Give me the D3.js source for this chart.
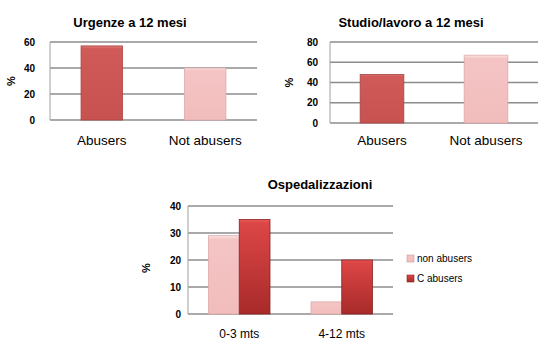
<!DOCTYPE html>
<html>
<head>
<meta charset="utf-8">
<script src="https://cdn.jsdelivr.net/npm/d3@7"></script>
<style>
body{margin:0;background:#fff}
svg{display:block}
text{font-family:"Liberation Sans",Arial,sans-serif;fill:#000}
</style>
</head>
<body>
<div id="chart"></div>
<script>
// data
var groups = ['Abusers','Not abusers']
var urgenze = [57,40]
var studio = [48,67]
var ospCats = ['0-3 mts','4-12 mts']
var ospSeries = ['non abusers','C abusers']
var ospNon = [29,4.5]
var ospAb = [35,20]
var ticks1 = [0,20,40,60]
var ticks2 = [0,20,40,60,80]
var ticks3 = [0,10,20,30,40]

var svg = d3.select('#chart').append('svg')
	.attr('width',538).attr('height',340)

var defs = svg.append('defs')
function grad(id, stops){
	var g = defs.append('linearGradient').attr('id',id)
		.attr('x1',0).attr('y1',0).attr('x2',0).attr('y2',1)
	stops.forEach(s=>g.append('stop').attr('offset',s[0]).attr('stop-color',s[1]))
}
grad('gDark',[[0,'#e07a78'],[0.04,'#d05a58'],[1,'#c85250']])
grad('gPink',[[0,'#fbe4e4'],[0.05,'#f4c4c4'],[1,'#f2bcbc']])
grad('gRed',[[0,'#e85a5a'],[0.04,'#dc4646'],[1,'#a82a2a']])

function frame(g, x0, x1, y, ticks, title, tx, ty, px, py, pad){
	g.selectAll('line.grid').data(ticks).join('line').attr('class','grid')
		.attr('x1',x0).attr('x2',x1)
		.attr('y1',d=>y(d)).attr('y2',d=>y(d))
		.attr('stroke','#8c8c8c').attr('stroke-width',1.6)
	g.append('line').attr('x1',x0).attr('x2',x0)
		.attr('y1',y(ticks[0])).attr('y2',y(ticks[ticks.length-1]))
		.attr('stroke','#a0a0a0').attr('stroke-width',1)
	var ax = g.append('g').attr('transform','translate('+(x0-pad)+',0)')
		.call(d3.axisLeft(y).tickValues(ticks).tickSize(0).tickPadding(0))
	ax.select('.domain').remove()
	ax.selectAll('text').style('font-size','10px').style('font-weight','bold')
		.style('font-family','"Liberation Sans",Arial,sans-serif')
	g.append('text').attr('x',tx).attr('y',ty).attr('text-anchor','middle')
		.style('font-size','13px').style('font-weight','bold').text(title)
	g.append('text').attr('transform','translate('+px+','+py+') rotate(-90)')
		.attr('text-anchor','middle').style('font-size','11px').style('font-weight','bold').text('%')
}

function simple(vals, x0, x1, yb, yt, max, ticks, title, tx, px, fr, pad){
	var g = svg.append('g')
	var x = d3.scaleBand().domain(groups).range([x0,x1])
	var y = d3.scaleLinear().domain([0,max]).range([yb,yt])
	frame(g, x0, x1, y, ticks, title, tx, 27, px, (yb+yt)/2, pad)
	var w = x.bandwidth()*fr
	g.selectAll('rect.bar').data(vals).join('rect').attr('class','bar')
		.attr('x',(d,i)=>x(groups[i])+x.bandwidth()/2-w/2)
		.attr('width',w)
		.attr('y',d=>y(d)).attr('height',d=>yb-y(d))
		.attr('fill',(d,i)=>i==0?'url(#gDark)':'url(#gPink)')
		.attr('stroke',(d,i)=>i==0?'#a84442':'#dcaaaa').attr('stroke-width',0.8)
	g.selectAll('text.cat').data(groups).join('text').attr('class','cat')
		.attr('x',d=>x(d)+x.bandwidth()/2).attr('y',145)
		.attr('text-anchor','middle').style('font-size','13.5px').text(d=>d)
}

simple(urgenze, 50, 257, 120, 42, 60, ticks1, 'Urgenze a 12 mesi', 130, 15, 0.4, 15)
simple(studio, 330, 538, 123, 42, 80, ticks2, 'Studio/lavoro a 12 mesi', 411, 293, 0.42, 12)

// ospedalizzazioni
var g3 = svg.append('g')
var x3 = d3.scaleBand().domain(ospCats).range([188,393])
var y3 = d3.scaleLinear().domain([0,40]).range([314,206])
frame(g3, 188, 393, y3, ticks3, 'Ospedalizzazioni', 320, 189, 150, 268, 7)
var gw = x3.bandwidth()*0.6
var xi = d3.scaleBand().domain(ospSeries).range([0,gw])
var rows = ospCats.map((c,i)=>({cat:c, vals:[ospNon[i],ospAb[i]]}))
var grp = g3.selectAll('g.grp').data(rows).join('g').attr('class','grp')
	.attr('transform',d=>'translate('+(x3(d.cat)+x3.bandwidth()/2-gw/2)+',0)')
grp.selectAll('rect').data(d=>d.vals).join('rect')
	.attr('x',(d,i)=>xi(ospSeries[i])).attr('width',xi.bandwidth())
	.attr('y',d=>y3(d)).attr('height',d=>314-y3(d))
	.attr('fill',(d,i)=>i==0?'url(#gPink)':'url(#gRed)')
	.attr('stroke',(d,i)=>i==0?'#dcaaaa':'#8a2222').attr('stroke-width',0.8)
g3.selectAll('text.cat').data(ospCats).join('text').attr('class','cat')
	.attr('x',d=>x3(d)+x3.bandwidth()/2).attr('y',338)
	.attr('text-anchor','middle').style('font-size','12px').text(d=>d)

// legend
var lg = svg.append('g').attr('transform','translate(407,255)')
var li = lg.selectAll('g').data(ospSeries).join('g')
	.attr('transform',(d,i)=>'translate(0,'+(i*20)+')')
li.append('rect').attr('width',7).attr('height',7)
	.attr('fill',(d,i)=>i==0?'url(#gPink)':'url(#gRed)')
	.attr('stroke',(d,i)=>i==0?'#c99':'#8a2222').attr('stroke-width',0.6)
li.append('text').attr('x',10).attr('y',7).style('font-size','10px').text(d=>d)
</script>
</body>
</html>
